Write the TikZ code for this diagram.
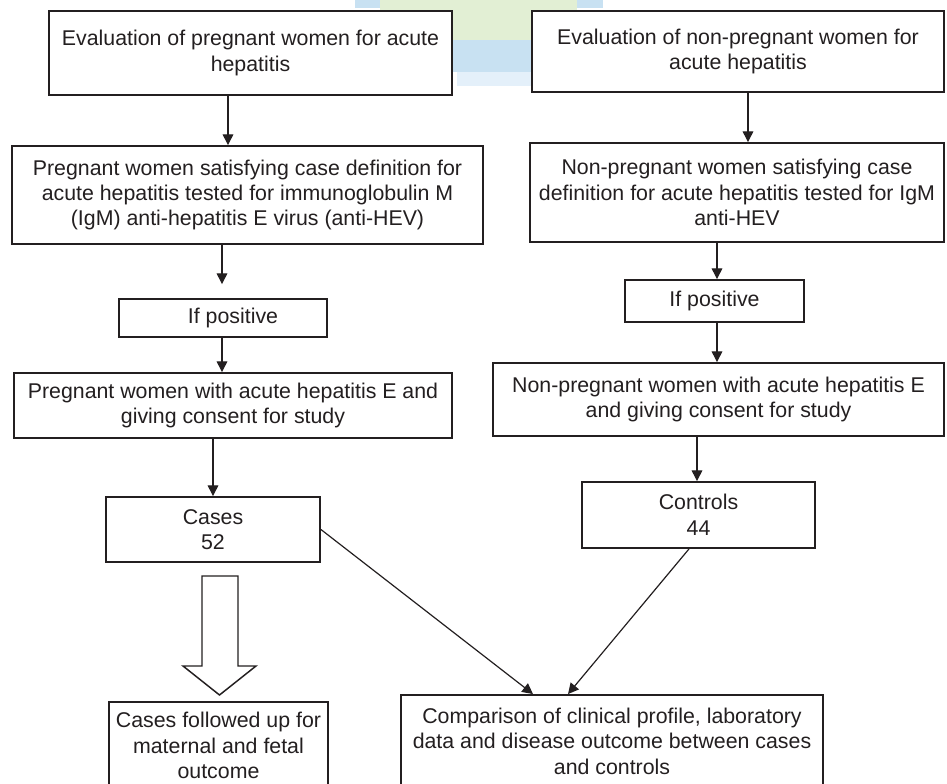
\documentclass[tikz,border=0pt]{standalone}
\usepackage{fontspec}
\setmainfont{Liberation Sans}
\usetikzlibrary{arrows.meta}
\definecolor{inkgray}{RGB}{35,31,32}
\definecolor{markblue}{RGB}{200,225,242}
\definecolor{markpale}{RGB}{228,240,250}
\definecolor{markgreen}{RGB}{226,239,212}
\newdimen\px \px=0.75pt

\begin{document}
\begin{tikzpicture}[x=0.75pt, y=-0.75pt,
    box/.style={draw=inkgray, line width=1.4pt, fill=white, text=inkgray,
      align=center, inner sep=0pt, font=\fontsize{16}{19.1}\selectfont},
    arr/.style={-{Triangle[length=8pt,width=8pt]}, draw=inkgray, line width=0.9pt}]
    \clip (0,0) rectangle (947,784);

    % logo behind the boxes
    \fill[markblue] (355,0) rectangle (603,8);
    \fill[markgreen] (380,0) rectangle (577,40);
    \fill[markblue] (440,40) rectangle (560,72);
    \fill[markpale] (457,72) rectangle (540,86);

    % pregnant women
    \node[box, minimum width=403\px, minimum height=84\px] (evalP) at (250.5,53)
        {Evaluation of pregnant women for acute\\hepatitis};
    \node[box, minimum width=471\px, minimum height=98\px] (testP) at (247.5,195)
        {Pregnant women satisfying case definition for\\acute hepatitis tested for immunoglobulin M\\(IgM) anti-hepatitis E virus (anti-HEV)};
    \node[box, minimum width=208\px, minimum height=38\px] (posP) at (223,318)
        {\hspace*{20\px}If positive};
    \node[box, minimum width=438\px, minimum height=65\px] (consP) at (233,405.5)
        {Pregnant women with acute hepatitis E and\\giving consent for study};
    \node[box, minimum width=214\px, minimum height=65\px] (cases) at (213,529.5) {Cases\\52};
    \node[box, minimum width=219\px, minimum height=87\px] (follow) at (218.5,745.5)
        {Cases followed up for\\maternal and fetal\\outcome};

    % non-pregnant women
    \node[box, minimum width=412\px, minimum height=81\px] (evalN) at (738,51.5)
        {Evaluation of non-pregnant women for\\acute hepatitis};
    \node[box, minimum width=414\px, minimum height=99\px] (testN) at (737,192.5)
        {Non-pregnant women satisfying case\\definition for acute hepatitis tested for IgM\\anti-HEV};
    \node[box, minimum width=179\px, minimum height=42\px] (posN) at (714.5,301) {If positive};
    \node[box, minimum width=451\px, minimum height=73\px] (consN) at (718.5,399.5)
        {Non-pregnant women with acute hepatitis E\\and giving consent for study};
    \node[box, minimum width=233\px, minimum height=66\px] (controls) at (698.5,515) {Controls\\44};

    \node[box, minimum width=422\px, minimum height=92\px] (compare) at (612,741)
        {Comparison of clinical profile, laboratory\\data and disease outcome between cases\\and controls};

    % where the arrows run
    \coordinate (xEvalP) at (228,0);
    \coordinate (xTestP) at (222,0);
    \coordinate (xConsP) at (213,0);
    \coordinate (xEvalN) at (748,0);
    \coordinate (xTestN) at (717,0);
    \coordinate (xConsN) at (697,0);
    \coordinate (xCtrl) at (689,0);
    \coordinate (xInP) at (533,0);
    \coordinate (xInN) at (568,0);

    \draw[arr] (evalP.south -| xEvalP) -- (testP.north -| xEvalP);
    \draw[arr, shorten >=10.5pt] (testP.south -| xTestP) -- (posP.north -| xTestP);
    \draw[arr] (posP.south -| xTestP) -- (consP.north -| xTestP);
    \draw[arr] (consP.south -| xConsP) -- (cases.north -| xConsP);

    \draw[arr] (evalN.south -| xEvalN) -- (testN.north -| xEvalN);
    \draw[arr] (testN.south -| xTestN) -- (posN.north -| xTestN);
    \draw[arr] (posN.south -| xTestN) -- (consN.north -| xTestN);
    \draw[arr] (consN.south -| xConsN) -- (controls.north -| xConsN);

    \draw[arr] (cases.east) -- (compare.north -| xInP);
    \draw[arr] (controls.south -| xCtrl) -- (compare.north -| xInN);

    % open block arrow down to the follow-up
    \draw[inkgray, line width=1.1pt, fill=white] (202,576) -- (238,576) -- (238,666)
        -- (256,666) -- (219.5,695) -- (183,666) -- (202,666) -- cycle;
\end{tikzpicture}
\end{document}
